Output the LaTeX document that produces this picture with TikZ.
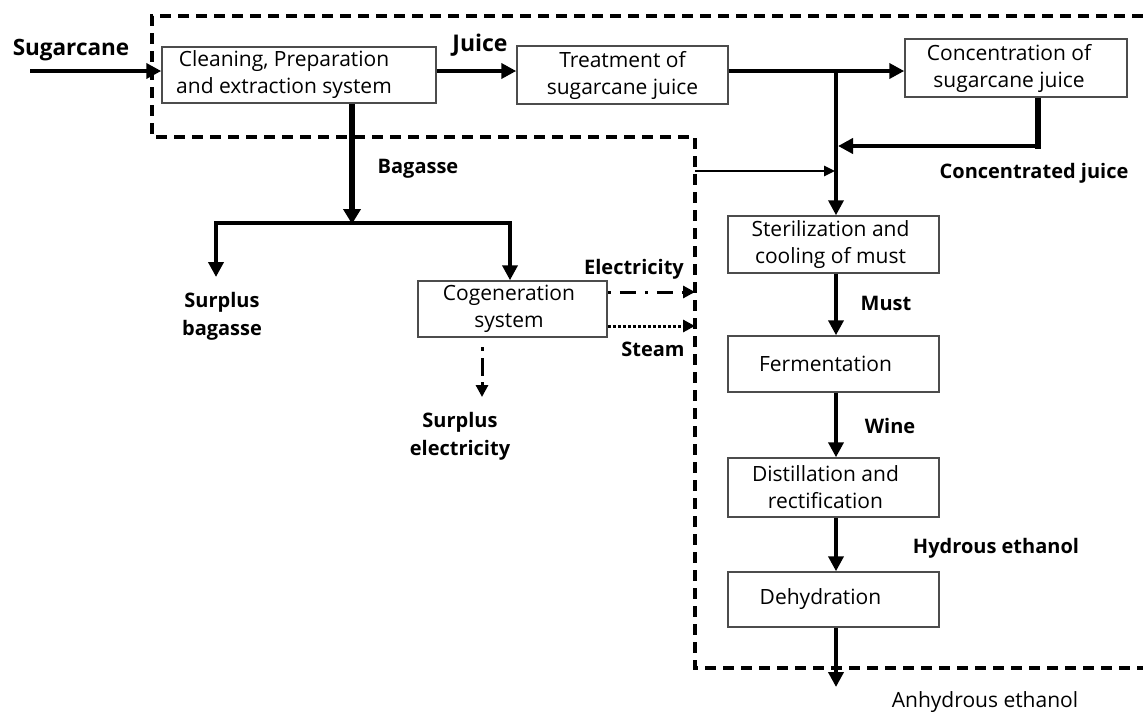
\documentclass[tikz,border=0pt]{standalone}
\usepackage{fontspec}
\setmainfont{Open Sans}
\usetikzlibrary{arrows.meta}
\begin{document}
\begin{tikzpicture}[x=1pt,y=-1pt,
  box/.style={draw=black!70, line width=1.5pt, minimum width=211pt, minimum height=57pt,
    inner sep=0pt, align=center, font=\fontsize{21}{27}\selectfont},
  lab/.style={font=\bfseries\fontsize{20}{28}\selectfont, align=center, inner sep=0pt},
  plainlab/.style={font=\fontsize{21}{27}\selectfont, align=center, inner sep=0pt},
  tip/.style={-{Triangle[length=15pt,width=15pt]}},
  flow/.style={line width=4.5pt, tip},
  thinflow/.style={line width=2.5pt, -{Triangle[length=11pt,width=10pt]}},
  boundary/.style={line width=3.5pt, dash pattern=on 11pt off 7pt},
  dashdot/.style={line width=3pt, dash pattern=on 3pt off 9pt on 16pt off 9pt, -{Triangle[length=12pt,width=12pt]}},
  dotline/.style={line width=3pt, dash pattern=on 3pt off 2pt, -{Triangle[length=12pt,width=12pt]}}]
\useasboundingbox (0,0) rectangle (1143,713);

% system boundary
\draw[boundary] (1143,16) -- (152,16) -- (152,137) -- (695,137) -- (695,668) -- (1143,668);

% boxes
\node[box, minimum width=274pt, minimum height=56pt] (clean) at (299,75) {Cleaning, Preparation\hspace*{30pt}\\and extraction system\hspace*{30pt}};
\node[box, minimum width=211pt, minimum height=58pt] (treat) at (622.5,75) {Treatment of\\sugarcane juice};
\node[box, minimum width=222pt, minimum height=58pt] (conc) at (1016,68) {Concentration of\hspace*{14pt}\\sugarcane juice\hspace*{14pt}};
\node[box, minimum height=57pt] (steril) at (833.5,244.5) {Sterilization and\hspace*{6pt}\\cooling of must\hspace*{6pt}};
\node[box, minimum height=56pt] (ferm) at (833.5,364) {Fermentation\hspace*{16pt}};
\node[box, minimum height=59pt] (dist) at (833.5,487.5) {Distillation and\hspace*{16pt}\\rectification\hspace*{16pt}};
\node[box, minimum height=55pt] (dehy) at (833.5,599.5) {Dehydration\hspace*{26pt}};
\node[box, minimum width=189pt, minimum height=56pt] (cogen) at (512.5,309) {Cogeneration\hspace*{7pt}\\system\hspace*{7pt}};

% labels
\node[lab, font=\bfseries\fontsize{22.5}{28}\selectfont] (lsug) at (71,50) {Sugarcane};
\node[lab, font=\bfseries\fontsize{23}{28}\selectfont] (ljuice) at (480,45) {Juice};
\node[lab] (lbag) at (418,169) {Bagasse};
\node[lab] (lsb) at (222,316) {Surplus\\bagasse};
\node[lab] (lel) at (634,269) {Electricity};
\node[lab] (lst) at (653,349) {Steam};
\node[lab] (lse) at (460,436) {Surplus\\electricity};
\node[lab] (lcj) at (1034,173) {Concentrated juice};
\node[lab] (lmust) at (886,303) {Must};
\node[lab] (lwine) at (890,426) {Wine};
\node[lab] (lhe) at (996,548) {Hydrous ethanol};
\node[plainlab] (lae) at (985,702) {Anhydrous ethanol};

% coordinates
\coordinate (sc) at (30,71);
\coordinate (jy) at (0,71);
\coordinate (jn) at (836,71);
\coordinate (cd) at (1038,146);
\coordinate (th) at (695,171);
\coordinate (bg) at (352,223);
\coordinate (bl) at (216,223);
\coordinate (br) at (510,223);
\coordinate (sb) at (216,277);
\coordinate (ey) at (0,292);
\coordinate (sy) at (0,326);
\coordinate (elb) at (695,292);
\coordinate (stb) at (695,326);
\coordinate (se1) at (482,347);
\coordinate (se2) at (482,397);
\coordinate (ae) at (836,687);

% main line
\draw[flow] (sc) -- (sc -| clean.west);
\draw[flow] (clean.east |- jy) -- (treat.west |- jy);
\draw[flow] (treat.east |- jy) -- (conc.west |- jy);
\draw[line width=3.5pt, tip] (jn) -- (jn |- steril.north);
\draw[line width=6.5pt] (conc.south -| cd) -- ([yshift=-2.5pt]cd);
\draw[flow] ([xshift=3pt]cd) -- ([xshift=2pt]jn |- cd);
\draw[thinflow] (th) -- ([xshift=-1pt]jn |- th);

% process chain
\draw[flow] (steril.south -| jn) -- (ferm.north -| jn);
\draw[flow] (ferm.south -| jn) -- (dist.north -| jn);
\draw[flow] (dist.south -| jn) -- (dehy.north -| jn);
\draw[flow] (dehy.south -| ae) -- (ae);

% bagasse
\draw[line width=6.5pt, -{Triangle[length=15pt,width=17pt]}] (clean.south -| bg) -- ([yshift=-1pt]bg);
\draw[line width=4.5pt, {Triangle[length=15pt,width=15pt]}-{Triangle[length=15pt,width=15pt]}]
  (sb) -- (bl) -- (br) -- (cogen.north -| br);

% cogeneration outputs
\draw[dashdot] (cogen.east |- ey) -- (elb);
\draw[dotline] (cogen.east |- sy) -- (stb);
\draw[line width=3pt, dash pattern=on 4pt off 7pt on 18pt off 6pt, -{Triangle[length=12pt,width=12pt]}] (se1) -- (se2);
\end{tikzpicture}
\end{document}
